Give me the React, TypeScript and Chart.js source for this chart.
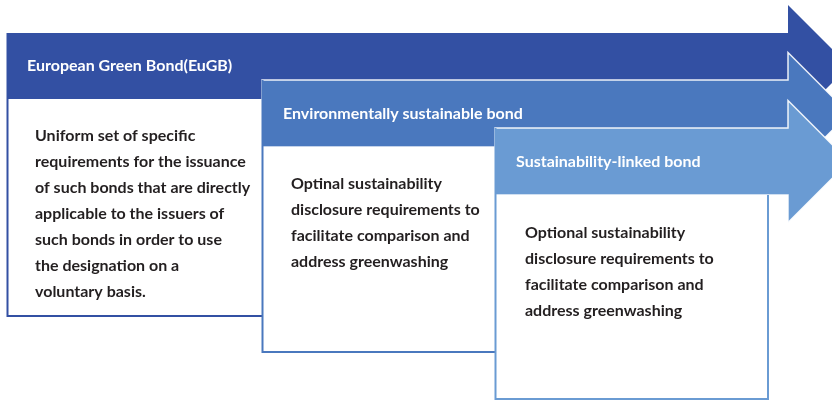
import { useEffect, useRef } from "react";
import { Chart, registerables } from "chart.js";

Chart.register(...registerables);

// ---- Content ----
const bondTypes = [
  "European Green Bond(EuGB)",
  "Environmentally sustainable bond",
  "Sustainability-linked bond",
];
const eugbLines = [
  "Uniform set of specific",
  "requirements for the issuance",
  "of such bonds that are directly",
  "applicable to the issuers of",
  "such bonds in order to use",
  "the designation on a",
  "voluntary basis.",
];
const envLines = [
  "Optinal sustainability",
  "disclosure requirements to",
  "facilitate comparison and",
  "address greenwashing",
];
const slbLines = [
  "Optional sustainability",
  "disclosure requirements to",
  "facilitate comparison and",
  "address greenwashing",
];
const descriptions = [eugbLines, envLines, slbLines];

// ---- Layout (diagram units = pixels of the 832x401 frame) ----
const boxLeft = [7, 262, 495];
const boxRight = [264, 497, 768];
const bandTop = [33, 80, 128];
const bandBottom = [99, 147, 195];
const boxBottom = [317, 353, 400];
const headBaseX = 788;
const headHalf = 61;
const colors = ["#3350A3", "#4A78BE", "#6A9BD3"];
const textX = [35, 291, 525];
const textFirstY = [136, 184, 233];
const lineGap = 26;
const titleX = [27, 283, 516];

const diagramPlugin = {
  id: "bondDiagram",
  afterDatasetsDraw(chart: any) {
    const ctx: CanvasRenderingContext2D = chart.ctx;
    const xs = chart.scales.x;
    const ys = chart.scales.y;
    const X = (v: number) => xs.getPixelForValue(v);
    const Y = (v: number) => ys.getPixelForValue(v);
    ctx.save();
    for (let i = 0; i < bondTypes.length; i++) {
      const top = bandTop[i];
      const bot = bandBottom[i];
      const mid = (top + bot) / 2;
      // arrow
      ctx.beginPath();
      ctx.moveTo(X(boxLeft[i]), Y(top));
      ctx.lineTo(X(headBaseX), Y(top));
      ctx.lineTo(X(headBaseX), Y(mid - headHalf));
      ctx.lineTo(X(headBaseX + headHalf), Y(mid));
      ctx.lineTo(X(headBaseX), Y(mid + headHalf));
      ctx.lineTo(X(headBaseX), Y(bot));
      ctx.lineTo(X(boxLeft[i]), Y(bot));
      ctx.closePath();
      ctx.fillStyle = colors[i];
      ctx.fill();
      if (i > 0) {
        ctx.strokeStyle = "rgba(255,255,255,0.9)";
        ctx.lineWidth = 1.5;
        ctx.stroke();
      }
      // white box
      ctx.fillStyle = "#ffffff";
      ctx.fillRect(X(boxLeft[i]), Y(bot), X(boxRight[i]) - X(boxLeft[i]), Y(boxBottom[i]) - Y(bot));
      ctx.strokeStyle = colors[i];
      ctx.lineWidth = 2;
      ctx.beginPath();
      ctx.moveTo(X(boxLeft[i]) + 0.5, Y(top));
      ctx.lineTo(X(boxLeft[i]) + 0.5, Y(boxBottom[i]) - 1);
      ctx.lineTo(X(boxRight[i]), Y(boxBottom[i]) - 1);
      ctx.lineTo(X(boxRight[i]), Y(bot));
      ctx.stroke();
      // title
      ctx.fillStyle = "#ffffff";
      ctx.font = "bold 16px Lato";
      ctx.textBaseline = "middle";
      ctx.textAlign = "left";
      ctx.fillText(bondTypes[i], X(titleX[i]), Y(mid));
      // description
      ctx.fillStyle = "#231F20";
      ctx.font = "bold 16px Lato";
      descriptions[i].forEach((line, k) => {
        ctx.fillText(line, X(textX[i]), Y(textFirstY[i] + k * lineGap));
      });
    }
    ctx.restore();
  },
};

export default function App() {
  const ref = useRef<HTMLCanvasElement | null>(null);
  useEffect(() => {
    if (!ref.current) return;
    const chart = new Chart(ref.current, {
      type: "scatter",
      data: { datasets: [{ data: [], pointRadius: 0 }] },
      options: {
        animation: false,
        responsive: false,
        layout: { padding: 0 },
        plugins: { legend: { display: false }, tooltip: { enabled: false } },
        scales: {
          x: { type: "linear", min: 0, max: 832, display: false },
          y: { type: "linear", min: 0, max: 401, reverse: true, display: false },
        },
      },
      plugins: [diagramPlugin],
    });
    return () => chart.destroy();
  }, []);
  return (
    <div style={{ position: "absolute", left: 0, top: 0, width: 832, height: 401, background: "#fff" }}>
      <canvas ref={ref} width={832} height={401} />
    </div>
  );
}
